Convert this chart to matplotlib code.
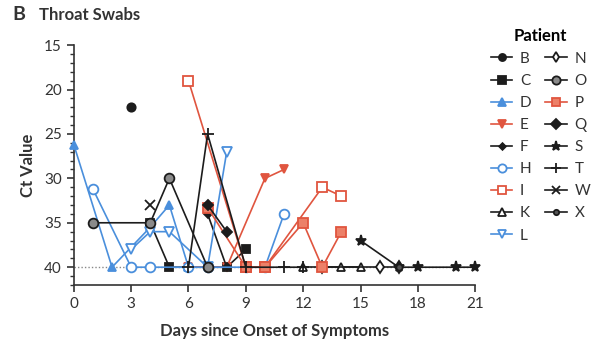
import matplotlib
matplotlib.use("Agg")
import matplotlib.pyplot as plt
from matplotlib.ticker import MultipleLocator

plt.rcParams['font.family'] = ['Lato', 'DejaVu Sans']

# Ct values per patient (throat swabs), 40 = not detected
patients = ['B', 'C', 'D', 'E', 'F', 'H', 'I', 'K', 'L', 'N', 'O', 'P', 'Q', 'S', 'T', 'W', 'X']
days = {
    'B': [3],
    'C': [4, 5, 8, 9],
    'D': [0, 2, 4, 5, 6],
    'E': [6, 7, 8, 10, 11],
    'F': [7, 8],
    'H': [1, 3, 4, 6, 7, 9, 10, 11],
    'I': [6, 9, 10, 13, 14],
    'K': [12, 14, 15],
    'L': [3, 4, 5, 7, 8],
    'N': [13, 16, 17],
    'O': [1, 4, 5, 7],
    'P': [7, 9, 10, 12, 13, 14],
    'Q': [7, 8],
    'S': [15, 17, 18, 20, 21],
    'T': [6, 7, 9, 11, 12],
    'W': [4],
    'X': [17],
}
ct = {
    'B': [22],
    'C': [35, 40, 40, 38],
    'D': [26.2, 40, 35.5, 33, 40],
    'E': [40, 40, 40, 30, 29],
    'F': [34, 40],
    'H': [31.2, 40, 40, 40, 40, 40, 40, 34],
    'I': [19, 40, 40, 31, 32],
    'K': [40, 40, 40],
    'L': [38, 36, 36, 40, 27],
    'N': [40, 40, 40],
    'O': [35, 35, 30, 40],
    'P': [33.3, 40, 40, 35, 40, 36],
    'Q': [33, 36],
    'S': [37, 40, 40, 40, 40],
    'T': [40, 25, 40, 40, 40],
    'W': [33],
    'X': [40],
}

blk = '#1c1c1c'
blue = '#4a8fdc'
red = '#e0553f'
# marker, color, face, size
styles = {
    'B': ('o', blk, blk, 6),
    'C': ('s', blk, blk, 6),
    'D': ('^', blue, blue, 6),
    'E': ('v', red, red, 6),
    'F': ('D', blk, blk, 4),
    'H': ('o', blue, 'white', 7),
    'I': ('s', red, 'white', 7),
    'K': ('^', blk, 'white', 6),
    'L': ('v', blue, 'white', 7),
    'N': ('d', blk, 'white', 6),
    'O': ('o', blk, '#8a8a8a', 7),
    'P': ('s', red, '#ec8068', 7),
    'Q': ('D', blk, blk, 5.5),
    'S': ('*', blk, blk, 8),
    'T': ('+', blk, blk, 9),
    'W': ('x', blk, blk, 7),
    'X': ('o', blk, '#555555', 4.5),
}

fig = plt.figure(figsize=(6, 3.58), dpi=100)
ax = fig.add_axes([0.123, 0.204, 0.669, 0.670])

ax.axhline(40, color='#888888', lw=1, ls=(0, (1, 1.5)), zorder=1)

for p in patients:
    m, c, fc, ms = styles[p]
    ax.plot(days[p], ct[p], marker=m, color=c, markerfacecolor=fc, markeredgecolor=c,
            ms=ms, lw=1.2, mew=1.3, label=p, clip_on=False, zorder=3)

ax.set_xlim(0, 21)
ax.set_ylim(42, 15)
ax.xaxis.set_major_locator(MultipleLocator(3))
ax.yaxis.set_major_locator(MultipleLocator(5))
ax.yaxis.set_minor_locator(MultipleLocator(1))
ax.spines['top'].set_visible(False)
ax.spines['right'].set_visible(False)
for s in ['left', 'bottom']:
    ax.spines[s].set_color('#333333')
    ax.spines[s].set_linewidth(1.2)
ax.tick_params(axis='both', which='major', length=5, width=1.2, color='#333333',
               labelsize=11, labelcolor='#333333')
ax.tick_params(axis='y', which='minor', length=3, width=1, color='#333333')

ax.set_xlabel('Days since Onset of Symptoms', fontsize=12, fontweight='bold',
              color='#333333', labelpad=9)
ax.set_ylabel('Ct Value', fontsize=12, fontweight='bold', color='#333333', labelpad=6)

fig.text(0.02, 0.945, 'B', fontsize=14, fontweight='bold', color='#333333')
fig.text(0.065, 0.945, 'Throat Swabs', fontsize=12, fontweight='bold', color='#333333')

leg = ax.legend(ncol=2, loc='upper left', bbox_to_anchor=(1.005, 1.13), frameon=False,
                title='Patient', fontsize=11, labelspacing=0.53, handlelength=1.4,
                handletextpad=0.5, columnspacing=0.9, markerscale=0.85)
leg.get_title().set_fontweight('bold')
leg.get_title().set_fontsize(12)
for t in leg.get_texts():
    t.set_color('#333333')

fig.savefig('out.png', dpi=100)
